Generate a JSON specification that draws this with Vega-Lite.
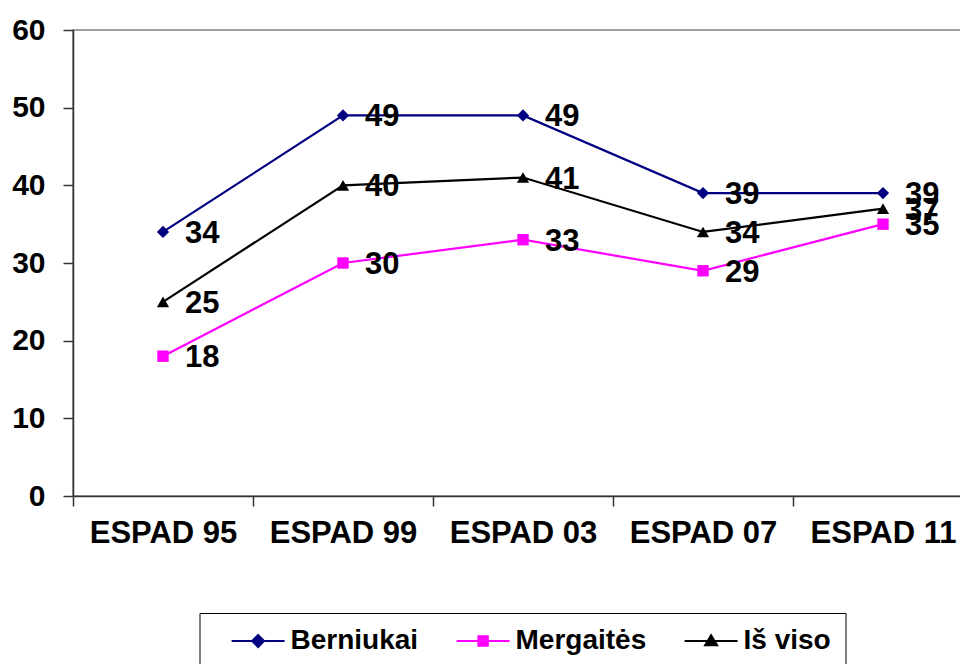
{
  "$schema": "https://vega.github.io/schema/vega-lite/v6.json",
  "width": 900,
  "height": 466,
  "autosize": "none",
  "padding": {"left": 73, "top": 30, "right": 0, "bottom": 168},
  "background": "white",
  "config": {
    "font": "Liberation Sans",
    "view": {"stroke": "#808080", "strokeWidth": 1.5}
  },
  "data": {
    "values": [
      {"survey": "ESPAD 95", "series": "Berniukai", "value": 34},
      {"survey": "ESPAD 99", "series": "Berniukai", "value": 49},
      {"survey": "ESPAD 03", "series": "Berniukai", "value": 49},
      {"survey": "ESPAD 07", "series": "Berniukai", "value": 39},
      {"survey": "ESPAD 11", "series": "Berniukai", "value": 39},
      {"survey": "ESPAD 95", "series": "Mergaitės", "value": 18},
      {"survey": "ESPAD 99", "series": "Mergaitės", "value": 30},
      {"survey": "ESPAD 03", "series": "Mergaitės", "value": 33},
      {"survey": "ESPAD 07", "series": "Mergaitės", "value": 29},
      {"survey": "ESPAD 11", "series": "Mergaitės", "value": 35},
      {"survey": "ESPAD 95", "series": "Iš viso", "value": 25},
      {"survey": "ESPAD 99", "series": "Iš viso", "value": 40},
      {"survey": "ESPAD 03", "series": "Iš viso", "value": 41},
      {"survey": "ESPAD 07", "series": "Iš viso", "value": 34},
      {"survey": "ESPAD 11", "series": "Iš viso", "value": 37}
    ]
  },
  "encoding": {
    "x": {
      "field": "survey",
      "type": "nominal",
      "sort": ["ESPAD 95", "ESPAD 99", "ESPAD 03", "ESPAD 07", "ESPAD 11"],
      "scale": {"type": "band", "paddingInner": 0, "paddingOuter": 0},
      "axis": {
        "title": null,
        "labelAngle": 0,
        "tickBand": "extent",
        "tickSize": 10,
        "tickColor": "#333333",
        "tickWidth": 1.5,
        "domainColor": "#333333",
        "domainWidth": 1.5,
        "labelPadding": 12,
        "labelFontSize": 31,
        "labelFontWeight": "bold",
        "labelColor": "black",
        "grid": false
      }
    },
    "y": {
      "field": "value",
      "type": "quantitative",
      "scale": {"domain": [0, 60], "nice": false},
      "axis": {
        "title": null,
        "values": [0, 10, 20, 30, 40, 50, 60],
        "tickSize": 10,
        "tickColor": "#333333",
        "tickWidth": 1.5,
        "domainColor": "#333333",
        "domainWidth": 1.5,
        "labelPadding": 18,
        "labelFontSize": 30,
        "labelFontWeight": "bold",
        "labelColor": "black",
        "grid": false
      }
    },
    "color": {
      "field": "series",
      "type": "nominal",
      "scale": {
        "domain": ["Berniukai", "Mergaitės", "Iš viso"],
        "range": ["#000080", "#FF00FF", "#000000"]
      },
      "legend": {
        "title": null,
        "orient": "none",
        "legendX": 126.5,
        "legendY": 583,
        "direction": "horizontal",
        "columns": 3,
        "strokeColor": "black",
        "padding": 14,
        "symbolSize": 400,
        "symbolStrokeWidth": 2,
        "labelOffset": 49,
        "columnPadding": 20,
        "labelFontSize": 28,
        "labelFontWeight": "bold",
        "labelColor": "black",
        "encode": {
          "symbols": {
            "update": {
              "shape": {"signal": "datum.value === 'Berniukai' ? 'M0.41,0H5.71M3.06,-0.6L3.66,0L3.06,0.6L2.46,0Z' : datum.value === 'Mergaitės' ? 'M0.41,0H5.71M2.59,-0.47H3.53V0.47H2.59Z' : 'M0.41,0H5.71M3.06,-0.58L3.66,0.42H2.46Z'"},
              "fill": {"signal": "datum.value === 'Berniukai' ? '#000080' : datum.value === 'Mergaitės' ? '#FF00FF' : '#000000'"},
              "stroke": {"signal": "datum.value === 'Berniukai' ? '#000080' : datum.value === 'Mergaitės' ? '#FF00FF' : '#000000'"},
              "opacity": {"value": 1},
              "fillOpacity": {"value": 1},
              "strokeWidth": {"value": 2}
            }
          }
        }
      }
    }
  },
  "layer": [
    {"mark": {"type": "line", "strokeWidth": 2.2}},
    {
      "transform": [{"filter": "datum.series === 'Berniukai'"}],
      "mark": {"type": "point", "filled": true, "opacity": 1, "size": 150, "shape": "diamond"}
    },
    {
      "transform": [{"filter": "datum.series === 'Mergaitės'"}],
      "mark": {"type": "point", "filled": true, "opacity": 1, "size": 130, "shape": "square"}
    },
    {
      "transform": [{"filter": "datum.series === 'Iš viso'"}],
      "mark": {"type": "point", "filled": true, "opacity": 1, "size": 150, "shape": "triangle-up"}
    },
    {
      "mark": {"type": "text", "align": "left", "baseline": "middle", "dx": 22, "dy": 2, "fontSize": 31, "fontWeight": "bold"},
      "encoding": {
        "text": {"field": "value", "type": "quantitative"},
        "color": {"value": "black"}
      }
    }
  ]
}
